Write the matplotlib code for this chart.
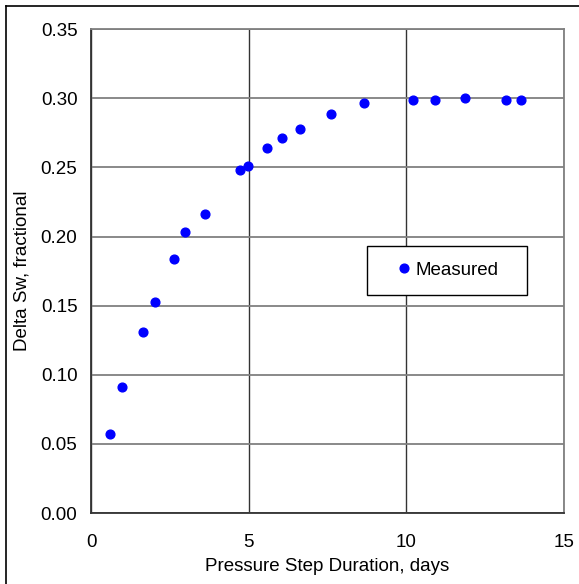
import matplotlib
matplotlib.use('Agg')
import matplotlib.pyplot as plt
from matplotlib.lines import Line2D

duration_days = [0.59, 0.98, 1.65, 2.03, 2.62, 2.96, 3.62, 4.73, 4.97, 5.59,
                 6.05, 6.64, 7.61, 8.67, 10.2, 10.91, 11.88, 13.18, 13.65]
delta_sw = [0.057, 0.091, 0.131, 0.153, 0.184, 0.203, 0.216, 0.248, 0.251, 0.264,
            0.271, 0.278, 0.289, 0.297, 0.299, 0.299, 0.300, 0.299, 0.299]

x_ticks = [0, 5, 10, 15]
y_ticks = [0.00, 0.05, 0.10, 0.15, 0.20, 0.25, 0.30, 0.35]

plt.rcParams['font.family'] = ['Liberation Sans', 'DejaVu Sans']
fs = 13.5

W, H = 579, 584
x0, x1, y_top, y_bot = 91.3, 563.7, 29.3, 513
fig = plt.figure(figsize=(W / 100, H / 100), dpi=100)
ax = fig.add_axes([x0 / W, 1 - y_bot / H, (x1 - x0) / W, (y_bot - y_top) / H])

ax.plot(duration_days, delta_sw, 'o', color='#0000ff', markersize=6.3,
        label='Measured', zorder=3)

ax.set_xlim(0, 15)
ax.set_ylim(0, 0.35)
ax.set_xticks(x_ticks)
ax.set_yticks(y_ticks)
ax.set_yticklabels([f'{v:.2f}' for v in y_ticks])
ax.tick_params(length=0, labelsize=fs)
ax.tick_params(axis='y', pad=10)
ax.tick_params(axis='x', pad=15)

ax.grid(True, axis='x', color='#333333', linewidth=1)
ax.grid(True, axis='y', color='#808080', linewidth=1.3)
ax.set_axisbelow(True)

for side in ['left', 'bottom']:
    ax.spines[side].set_color('#333333')
    ax.spines[side].set_linewidth(1.3)
for side in ['top', 'right']:
    ax.spines[side].set_color('#808080')
    ax.spines[side].set_linewidth(1.3)

ax.set_xlabel('Pressure Step Duration, days', fontsize=fs, labelpad=5)
ax.set_ylabel('Delta Sw, fractional', fontsize=fs, labelpad=7)

# legend box spans roughly x 367..527, centred at y 270 (pixels)
lx0 = (367 - x0) / (x1 - x0)
lw = (527 - 367) / (x1 - x0)
ly = (y_bot - 270) / (y_bot - y_top)
leg = ax.legend(loc='center', bbox_to_anchor=(lx0, ly, lw, 0), mode='expand',
                fontsize=fs, frameon=True, fancybox=False, borderpad=0.85,
                handletextpad=-0.5, handlelength=2.25, borderaxespad=0)
leg.get_frame().set_edgecolor('#000000')
leg.get_frame().set_linewidth(1.0)
leg.get_frame().set_alpha(1)

# outer chart border (left and top visible)
fig.add_artist(Line2D([6 / W, 6 / W], [0, 1 - 6 / H], color='black', linewidth=1.2,
                      transform=fig.transFigure))
fig.add_artist(Line2D([6 / W, 1], [1 - 6 / H, 1 - 6 / H], color='black', linewidth=1.2,
                      transform=fig.transFigure))

fig.savefig('out.png', dpi=100)
